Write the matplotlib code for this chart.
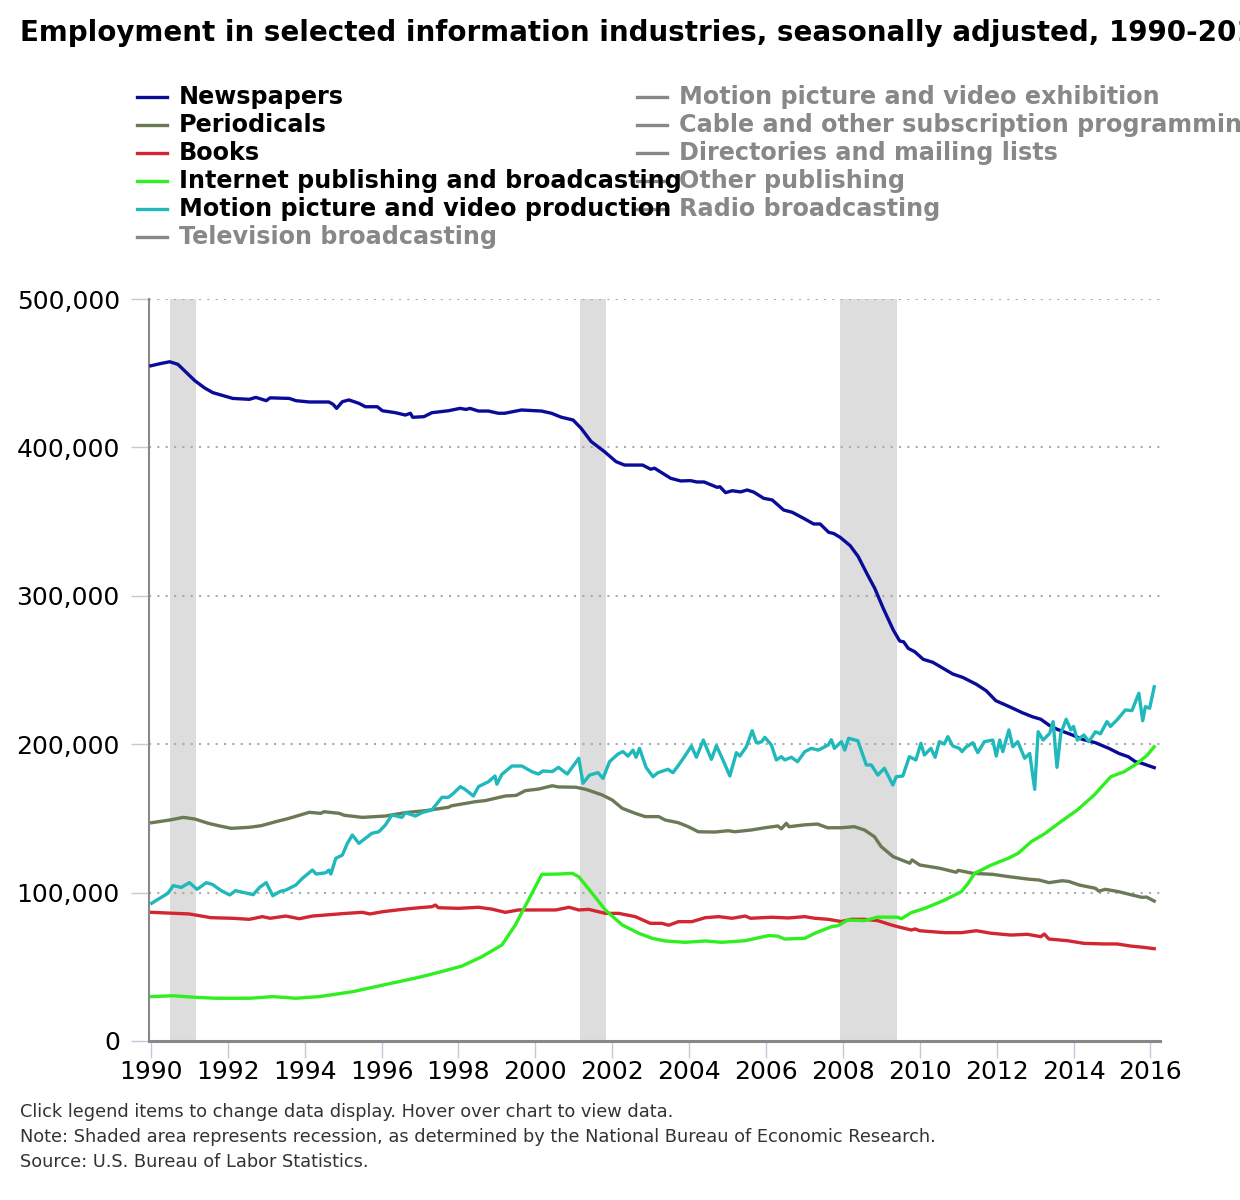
import matplotlib
matplotlib.use("Agg")
import matplotlib.pyplot as plt
from matplotlib.lines import Line2D

plt.rcParams['font.family'] = ['DejaVu Sans']

# ---------------- data (thousands of jobs) ----------------
news_x = [1990.0, 1990.25, 1990.49, 1990.7, 1991.14, 1991.4, 1991.61, 1992.13, 1992.56, 1992.73, 1993.0, 1993.1,
          1993.6, 1993.77, 1994.12, 1994.63, 1994.74, 1994.83, 1994.98, 1995.15, 1995.41, 1995.58, 1995.89,
          1996.02, 1996.36, 1996.62, 1996.75, 1996.81, 1997.1, 1997.31, 1997.74, 1998.04, 1998.2, 1998.3,
          1998.52, 1998.78, 1999.04, 1999.2, 1999.64, 2000.16, 2000.42, 2000.68, 2000.98, 2001.19, 2001.45,
          2001.8, 2002.1, 2002.32, 2002.79, 2003.0, 2003.1, 2003.52, 2003.78, 2004.04, 2004.2, 2004.39,
          2004.73, 2004.8, 2004.95, 2005.12, 2005.34, 2005.51, 2005.68, 2005.94, 2006.16, 2006.46, 2006.68,
          2006.98, 2007.24, 2007.41, 2007.63, 2007.76, 2007.93, 2008.19, 2008.4, 2008.62, 2008.83, 2009.05,
          2009.31, 2009.48, 2009.58, 2009.7, 2009.87, 2010.09, 2010.34, 2010.86, 2011.12, 2011.47, 2011.73,
          2011.98, 2012.33, 2012.67, 2012.93, 2013.15, 2013.36, 2013.58, 2013.97, 2014.23, 2014.57, 2014.92,
          2015.18, 2015.43, 2015.61, 2015.78, 2016.1]
news_y = [455.0, 456.5, 457.7, 456.0, 445.0, 440.0, 436.9, 433.0, 432.4, 433.7, 431.5, 433.4,
          433.0, 431.5, 430.6, 430.6, 429.0, 426.3, 430.8, 432.0, 429.7, 427.4, 427.4,
          424.7, 423.4, 421.8, 423.0, 420.3, 420.7, 423.4, 424.7, 426.3, 425.6, 426.3,
          424.5, 424.5, 423.0, 423.0, 425.2, 424.5, 423.0, 420.3, 418.5, 412.9, 404.0,
          397.1, 390.4, 388.1, 388.1, 385.3, 386.0, 379.2, 377.4, 377.6, 376.7, 376.7,
          373.1, 373.5, 369.5, 370.8, 370.0, 371.3, 369.9, 365.7, 364.6, 357.8, 356.3,
          352.2, 348.4, 348.4, 342.8, 342.0, 339.4, 333.8, 326.4, 315.2, 305.0, 291.6,
          277.0, 269.5, 269.0, 264.6, 262.3, 257.2, 255.2, 247.3, 245.0, 240.4, 236.0,
          229.3, 225.3, 221.2, 218.5, 216.8, 212.9, 210.0, 206.2, 203.3, 201.0, 197.2,
          193.8, 191.5, 188.2, 187.1, 184.2]

peri_x = [1990.02, 1990.49, 1990.84, 1991.14, 1991.49, 1991.79, 1992.09, 1992.56, 1992.87, 1993.25, 1993.6,
          1994.12, 1994.42, 1994.5, 1994.9, 1995.03, 1995.5, 1996.1, 1996.62, 1997.14, 1997.74, 1997.82,
          1998.45, 1998.7, 1999.22, 1999.5, 1999.74, 2000.09, 2000.44, 2000.6, 2001.05, 2001.31, 2001.74,
          2002.0, 2002.26, 2002.6, 2002.86, 2003.21, 2003.38, 2003.72, 2003.98, 2004.24, 2004.67, 2005.02,
          2005.19, 2005.62, 2005.97, 2006.31, 2006.4, 2006.53, 2006.6, 2006.99, 2007.34, 2007.6, 2007.95,
          2008.3, 2008.56, 2008.82, 2009.0, 2009.31, 2009.74, 2009.8, 2010.0, 2010.52, 2010.95, 2011.0,
          2011.38, 2011.9, 2012.33, 2012.85, 2013.1, 2013.36, 2013.71, 2013.88, 2014.15, 2014.57, 2014.66,
          2014.83, 2015.18, 2015.52, 2015.78, 2015.9, 2016.1]
peri_y = [147.1, 148.9, 150.7, 149.6, 146.7, 144.9, 143.3, 144.0, 145.1, 147.8, 150.1,
          154.1, 153.4, 154.5, 153.4, 152.1, 150.7, 151.6, 153.9, 155.2, 157.5, 158.5,
          161.3, 162.0, 165.1, 165.5, 168.7, 169.8, 172.0, 171.2, 171.0, 169.6, 165.8,
          162.4, 156.8, 153.4, 151.2, 151.2, 148.9, 147.1, 144.4, 141.0, 140.8, 141.7,
          141.0, 142.2, 143.7, 144.9, 143.0, 146.7, 144.4, 145.6, 146.2, 143.7, 143.7,
          144.4, 142.2, 137.7, 130.9, 124.2, 119.8, 122.0, 118.6, 116.4, 113.7, 115.0,
          113.0, 112.3, 110.7, 109.0, 108.5, 106.7, 108.0, 107.5, 105.1, 102.9, 101.0,
          102.2, 100.6, 98.4, 96.8, 97.0, 94.3]

book_x = [1990.02, 1991.0, 1991.56, 1992.12, 1992.56, 1992.9, 1993.1, 1993.51, 1993.86, 1994.2, 1994.64,
          1995.07, 1995.5, 1995.7, 1996.02, 1996.54, 1996.97, 1997.31, 1997.4, 1997.48, 1998.0, 1998.52,
          1998.86, 1999.22, 1999.56, 2000.08, 2000.53, 2000.88, 2001.13, 2001.39, 2001.82, 2002.17, 2002.6,
          2002.99, 2003.29, 2003.47, 2003.72, 2004.07, 2004.42, 2004.77, 2005.12, 2005.46, 2005.6, 2006.15,
          2006.58, 2007.01, 2007.27, 2007.62, 2007.96, 2008.22, 2008.56, 2008.91, 2009.26, 2009.43, 2009.78,
          2009.88, 2010.0, 2010.65, 2011.08, 2011.47, 2011.86, 2012.37, 2012.8, 2013.15, 2013.24, 2013.36,
          2013.84, 2014.27, 2014.79, 2015.13, 2015.48, 2015.83, 2016.1]
book_y = [86.7, 85.6, 83.1, 82.7, 82.0, 83.8, 82.7, 84.2, 82.4, 84.2, 85.1,
          86.0, 86.7, 85.6, 87.1, 88.7, 89.8, 90.5, 91.6, 89.8, 89.4, 90.1,
          88.9, 86.7, 88.3, 88.3, 88.3, 90.1, 88.3, 88.7, 86.0, 86.0, 83.8,
          79.3, 79.3, 78.0, 80.4, 80.4, 83.1, 83.8, 82.7, 84.2, 82.7, 83.4,
          82.9, 83.8, 82.7, 82.0, 80.5, 82.0, 82.0, 81.1, 78.2, 77.0, 74.8,
          75.5, 74.3, 73.0, 73.0, 74.3, 72.6, 71.4, 71.9, 70.3, 72.1, 68.7,
          67.6, 65.8, 65.4, 65.4, 64.0, 63.1, 62.2]

inet_x = [1990.02, 1990.58, 1991.18, 1991.7, 1992.56, 1993.17, 1993.77, 1994.38, 1995.24, 1995.93, 1996.97,
          1997.49, 1998.09, 1998.61, 1999.13, 1999.48, 1999.82, 2000.17, 2000.6, 2000.96, 2001.13, 2001.48,
          2001.82, 2002.26, 2002.69, 2003.04, 2003.38, 2003.9, 2004.42, 2004.85, 2005.46, 2006.06, 2006.3,
          2006.49, 2007.01, 2007.27, 2007.7, 2007.87, 2008.13, 2008.56, 2008.91, 2009.2, 2009.43, 2009.52,
          2009.78, 2010.13, 2010.65, 2011.08, 2011.26, 2011.43, 2011.86, 2012.3, 2012.56, 2012.9, 2013.24,
          2013.67, 2014.1, 2014.54, 2014.97, 2015.32, 2015.66, 2015.92, 2016.1]
inet_y = [29.9, 30.5, 29.4, 28.8, 28.8, 29.9, 28.8, 29.9, 33.2, 37.1, 42.9,
          46.3, 50.5, 56.8, 64.7, 78.2, 95.0, 112.3, 112.5, 113.0, 110.7, 99.5,
          88.3, 78.2, 72.6, 69.2, 67.4, 66.5, 67.4, 66.5, 67.6, 71.0, 70.7,
          68.7, 69.2, 72.6, 77.0, 77.7, 81.5, 81.1, 83.5, 83.5, 83.4, 82.4,
          86.5, 89.4, 95.0, 100.6, 106.3, 113.0, 118.6, 123.1, 126.5, 134.3, 139.5,
          147.8, 155.7, 165.8, 178.1, 181.5, 187.1, 192.7, 198.3]

movie_x = [1990.02, 1990.23, 1990.44, 1990.58, 1990.79, 1991.0, 1991.2, 1991.44, 1991.6, 1991.83, 1992.05,
           1992.2, 1992.5, 1992.66, 1992.83, 1993.0, 1993.17, 1993.36, 1993.51, 1993.77, 1993.94, 1994.2,
           1994.3, 1994.55, 1994.63, 1994.68, 1994.81, 1994.98, 1995.11, 1995.24, 1995.41, 1995.58, 1995.75,
           1995.93, 1996.1, 1996.27, 1996.53, 1996.62, 1996.88, 1997.05, 1997.31, 1997.57, 1997.74, 1997.87,
           1998.05, 1998.17, 1998.39, 1998.52, 1998.78, 1998.95, 1999.0, 1999.13, 1999.39, 1999.65, 1999.91,
           2000.08, 2000.2, 2000.44, 2000.6, 2000.83, 2001.13, 2001.24, 2001.41, 2001.63, 2001.76, 2001.93,
           2002.15, 2002.28, 2002.41, 2002.54, 2002.62, 2002.71, 2002.88, 2003.06, 2003.19, 2003.45, 2003.58,
           2003.71, 2003.89, 2004.06, 2004.19, 2004.37, 2004.58, 2004.71, 2004.88, 2005.06, 2005.23, 2005.32,
           2005.49, 2005.64, 2005.75, 2005.88, 2005.97, 2006.14, 2006.27, 2006.4, 2006.49, 2006.66, 2006.82,
           2007.01, 2007.18, 2007.36, 2007.62, 2007.7, 2007.78, 2007.96, 2008.05, 2008.15, 2008.39, 2008.61,
           2008.74, 2008.91, 2009.08, 2009.3, 2009.39, 2009.56, 2009.73, 2009.9, 2010.03, 2010.12, 2010.29,
           2010.4, 2010.51, 2010.64, 2010.73, 2010.86, 2011.03, 2011.1, 2011.2, 2011.38, 2011.51, 2011.68,
           2011.9, 2011.99, 2012.08, 2012.16, 2012.32, 2012.42, 2012.55, 2012.73, 2012.86, 2012.99, 2013.08,
           2013.21, 2013.38, 2013.47, 2013.57, 2013.67, 2013.81, 2013.93, 2014.0, 2014.1, 2014.27, 2014.4,
           2014.57, 2014.7, 2014.87, 2014.96, 2015.13, 2015.35, 2015.52, 2015.7, 2015.8, 2015.87, 2015.98,
           2016.1]
movie_y = [92.8, 96.2, 99.5, 104.7, 103.5, 106.7, 102.2, 106.7, 105.5, 101.3, 98.4,
           101.3, 99.5, 98.6, 103.6, 106.7, 97.9, 100.8, 101.7, 105.1, 109.6, 115.2,
           112.5, 113.4, 115.2, 112.5, 123.1, 125.3, 133.2, 138.8, 133.2, 136.6, 140.0,
           141.0, 145.6, 152.3, 150.7, 153.9, 151.6, 153.9, 155.7, 164.2, 164.2, 166.9,
           171.4, 169.6, 165.1, 171.4, 174.7, 178.6, 173.0, 179.7, 185.3, 185.3, 181.5,
           179.9, 182.0, 181.5, 184.4, 179.9, 190.5, 173.7, 179.2, 180.8, 177.0, 188.2,
           193.4, 195.0, 192.0, 196.0, 191.2, 197.2, 184.4, 178.1, 180.8, 183.1, 180.8,
           185.3, 192.0, 198.8, 191.2, 202.8, 189.8, 199.0, 189.4, 178.6, 194.3, 192.0,
           198.3, 209.1, 201.0, 201.5, 204.6, 199.5, 189.4, 191.6, 189.4, 191.2, 188.2,
           195.0, 197.2, 196.0, 199.5, 203.0, 197.2, 201.7, 196.1, 204.0, 202.3, 186.0,
           186.0, 179.2, 183.8, 172.5, 178.1, 178.6, 191.6, 189.4, 200.6, 192.7, 197.2,
           191.2, 201.7, 200.1, 205.1, 198.8, 197.2, 195.0, 197.9, 201.0, 194.3, 201.7,
           202.8, 192.0, 202.8, 195.0, 209.6, 198.3, 201.7, 190.5, 193.8, 169.6, 208.4,
           202.8, 207.3, 215.2, 184.4, 207.3, 216.8, 209.6, 212.0, 202.8, 206.2, 201.7,
           208.4, 207.0, 215.2, 212.0, 216.3, 223.1, 222.6, 234.3, 215.8, 225.3, 224.2,
           238.7]

# recessions (NBER)
rec_start = [1990.5, 2001.17, 2007.92]
rec_end = [1991.17, 2001.83, 2009.42]

active_names = ["Newspapers", "Periodicals", "Books", "Internet publishing and broadcasting",
                "Motion picture and video production"]
active_colors = ["#0b0b99", "#6b7a55", "#d22630", "#2ef01e", "#1fb8bb"]
inactive_col1 = ["Television broadcasting"]
inactive_col2 = ["Motion picture and video exhibition", "Cable and other subscription programming",
                 "Directories and mailing lists", "Other publishing", "Radio broadcasting"]

x_ticks = list(range(1990, 2017, 2))
y_ticks = [0, 100000, 200000, 300000, 400000, 500000]

title = "Employment in selected information industries, seasonally adjusted, 1990-2016"
notes = ["Click legend items to change data display. Hover over chart to view data.",
         "Note: Shaded area represents recession, as determined by the National Bureau of Economic Research.",
         "Source: U.S. Bureau of Labor Statistics."]

# ---------------- figure ----------------
W, H = 1240, 1200
fig = plt.figure(figsize=(W / 100, H / 100), dpi=100)
fig.patch.set_facecolor("white")

left, right, top, bottom = 149, 1160, 299, 1041
ax = fig.add_axes([left / W, 1 - bottom / H, (right - left) / W, (bottom - top) / H])
ax.set_xlim(1989.95, 2016.25)
ax.set_ylim(0, 500000)

for s, e in zip(rec_start, rec_end):
    ax.axvspan(s, e, color="#dddddd", lw=0, zorder=0)

for yv in y_ticks[1:]:
    ax.axhline(yv, color="#aaaaaa", lw=1.5, ls=(0, (1, 3)), zorder=1)

series = [(news_x, news_y), (peri_x, peri_y), (book_x, book_y), (inet_x, inet_y), (movie_x, movie_y)]
for (xs, ys), c in zip(series, active_colors):
    ax.plot(xs, [v * 1000 for v in ys], color=c, lw=2.4, zorder=3, solid_joinstyle="round")

for sp in ["top", "right"]:
    ax.spines[sp].set_visible(False)
ax.spines["left"].set_color("#888888")
ax.spines["left"].set_linewidth(1.5)
ax.spines["bottom"].set_color("#888888")
ax.spines["bottom"].set_linewidth(2.2)

ax.set_xticks(x_ticks)
ax.set_xticklabels([str(t) for t in x_ticks])
ax.set_yticks(y_ticks)
ax.set_yticklabels([f"{t:,}" for t in y_ticks])
ax.tick_params(axis="x", length=12, width=1, color="#c0cad8", labelsize=18, pad=2)
ax.tick_params(axis="y", length=13, width=1, color="#c0cad8", labelsize=18, pad=8)

# title
fig.text(20 / W, 1 - 33 / H, title, fontsize=20, fontweight="bold", ha="left", va="center", color="black")

# legend (manual)
rows = [97, 125, 153, 181, 209, 237]
col1 = [(n, c, True) for n, c in zip(active_names, active_colors)] + [(n, "#888888", False) for n in inactive_col1]
col2 = [(n, "#888888", False) for n in inactive_col2]
for col, x0 in [(col1, 137), (col2, 637)]:
    for (name, c, act), yy in zip(col, rows):
        fy = 1 - yy / H
        fig.add_artist(Line2D([x0 / W, (x0 + 30) / W], [fy, fy], color=c, lw=2.4, transform=fig.transFigure))
        fig.text((x0 + 42) / W, fy, name, fontsize=17.2, fontweight="bold", ha="left", va="center",
                 color="black" if act else "#888888")

# notes
for i, t in enumerate(notes):
    fig.text(20 / W, 1 - (1112 + 25 * i) / H, t, fontsize=12.75, ha="left", va="center", color="#333333")

fig.savefig("out.png", dpi=100)
